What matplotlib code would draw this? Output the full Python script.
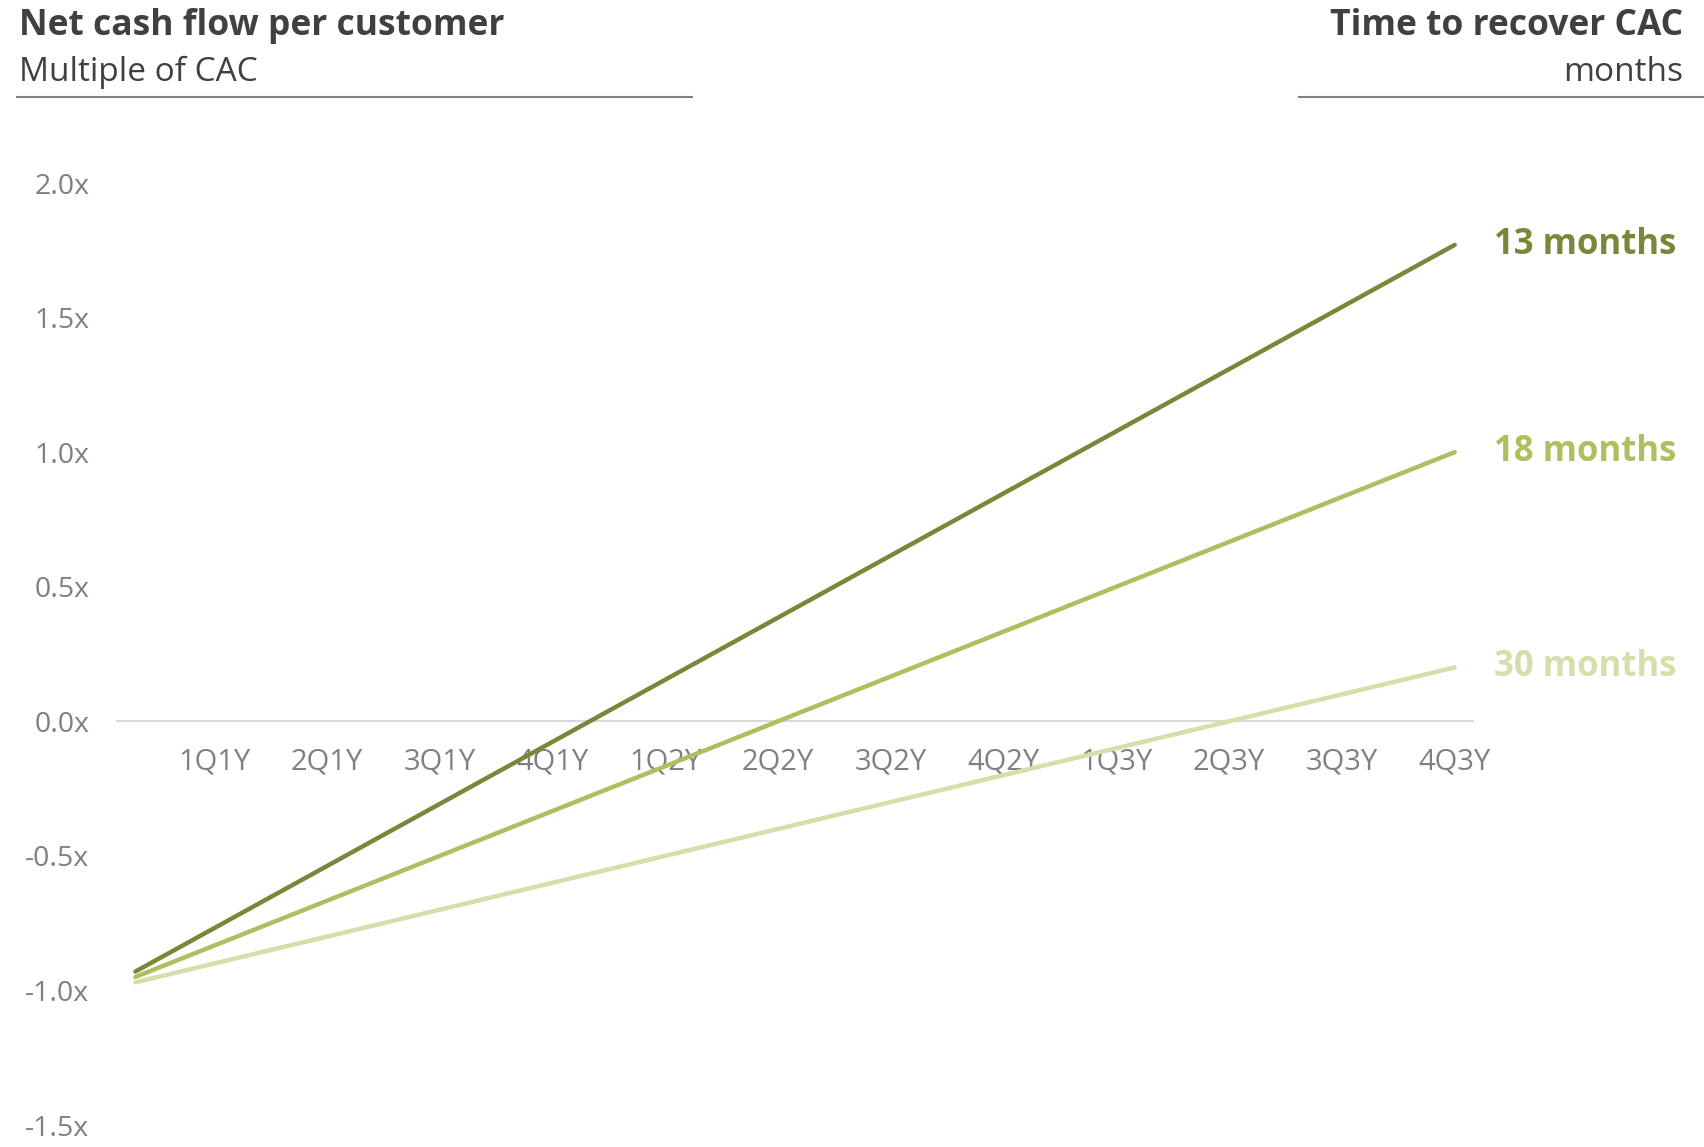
import matplotlib.pyplot as plt
from matplotlib.lines import Line2D
import numpy as np

# payback curves, net cash flow as a multiple of CAC (start / end of 36 months)
months = [0, 36]
payback_13 = [-0.93, 1.77]
payback_18 = [-0.95, 1.00]
payback_30 = [-0.97, 0.20]
series_labels = ['13 months', '18 months', '30 months']
quarters = ['1Q1Y', '2Q1Y', '3Q1Y', '4Q1Y', '1Q2Y', '2Q2Y', '3Q2Y', '4Q2Y',
            '1Q3Y', '2Q3Y', '3Q3Y', '4Q3Y']
y_ticks = [-1.5, -1.0, -0.5, 0.0, 0.5, 1.0, 1.5, 2.0]

colours = ['#7a8739', '#adbf5f', '#d4dfab']
text_dark = '#404040'
tick_grey = '#808080'

plt.rcParams['font.family'] = ['Open Sans', 'DejaVu Sans']

W, H = 1704, 1147
fig = plt.figure(figsize=(W / 100, H / 100), dpi=100)
ax = fig.add_axes([117 / W, 1 - 1125 / H, (1473 - 117) / W, (1125 - 183) / H])

for vals, col, lab in zip([payback_13, payback_18, payback_30], colours, series_labels):
    ax.plot(months, vals, color=col, lw=3.2, solid_capstyle='round', zorder=3)
    ax.annotate(lab, xy=(months[-1], vals[-1]), xytext=(28, 0),
                textcoords='offset points', va='center', ha='left',
                fontsize=25, fontweight='bold', color=col)

ax.set_xlim(-0.5, 36.5)
ax.set_ylim(-1.5, 2.0)

# zero line doubles as the category axis
for s in ['top', 'right', 'left']:
    ax.spines[s].set_visible(False)
ax.spines['bottom'].set_position(('data', 0))
ax.spines['bottom'].set_color('#d9d9d9')
ax.spines['bottom'].set_linewidth(1.5)
ax.spines['bottom'].set_zorder(1)

tick_pos = np.linspace(2.15, 36, len(quarters))
ax.set_xticks(tick_pos)
ax.set_xticklabels(quarters)
ax.tick_params(axis='x', length=0, pad=19, labelsize=21, labelcolor=tick_grey)

ax.set_yticks(y_ticks)
ax.set_yticklabels(['{:.1f}x'.format(v) for v in y_ticks])
ax.tick_params(axis='y', length=0, pad=20, labelsize=20.5, labelcolor=tick_grey)

# headers
fig.text(19 / W, 1 - 35 / H, 'Net cash flow per customer', fontsize=25.5,
         fontweight='bold', color=text_dark, va='baseline', ha='left')
fig.text(19 / W, 1 - 81 / H, 'Multiple of CAC', fontsize=24,
         color=text_dark, va='baseline', ha='left')
fig.text(1683 / W, 1 - 35 / H, 'Time to recover CAC', fontsize=25.5,
         fontweight='bold', color=text_dark, va='baseline', ha='right')
fig.text(1683 / W, 1 - 81 / H, 'months', fontsize=24,
         color=text_dark, va='baseline', ha='right')
fig.add_artist(Line2D([17 / W, 692 / W], [1 - 97 / H] * 2, color='#808080', lw=1.5))
fig.add_artist(Line2D([1299 / W, 1.0], [1 - 97 / H] * 2, color='#808080', lw=1.5))

fig.savefig('out.png', dpi=100)
